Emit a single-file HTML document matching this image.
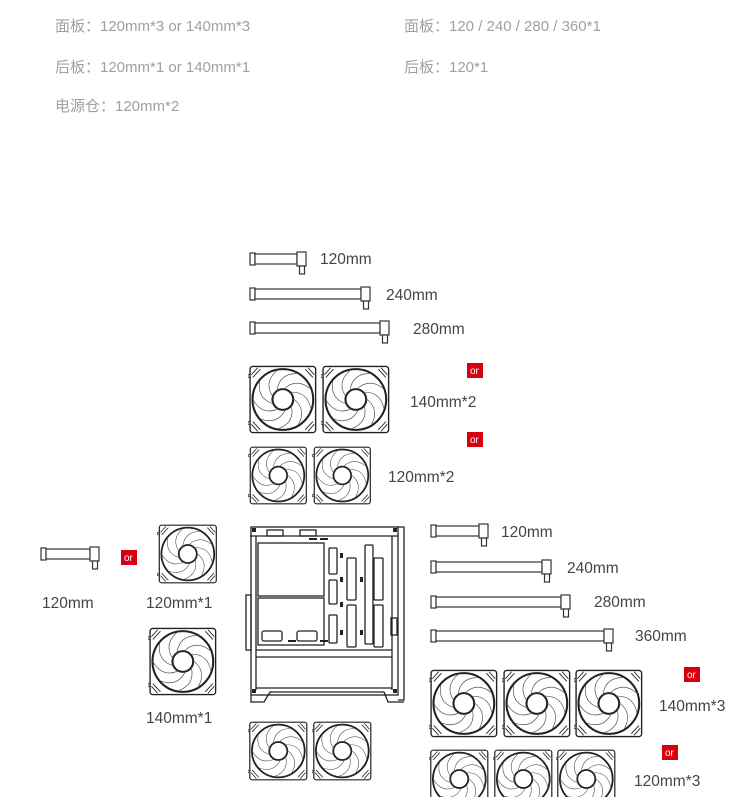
<!DOCTYPE html>
<html><head><meta charset="utf-8"><style>
html,body{margin:0;padding:0;background:#fff;}
svg{display:block;}
.t{font-family:"Liberation Sans","Noto Sans CJK SC",sans-serif;font-size:15px;fill:#a0a0a0;}
.l{font-family:"Liberation Sans","Noto Sans CJK SC",sans-serif;font-size:15.5px;fill:#444;}
.or{font-family:"Liberation Sans",sans-serif;font-size:10px;fill:#fff;}
</style></head><body>
<svg width="750" height="797" viewBox="0 0 750 797" xmlns="http://www.w3.org/2000/svg">
<defs>
<symbol id="fan" viewBox="0 0 100 100">
 <g fill="none" stroke="#222">
  <rect x="3" y="2" width="95" height="96" rx="4" stroke-width="2"/>
  <circle cx="50.5" cy="50" r="44" stroke-width="3"/>
  <circle cx="50.5" cy="50" r="15" stroke-width="3"/>
  <g stroke-width="1" stroke="#555">
   <path id="bl" d="M52,35 Q70,18 90,34"/>
   <use href="#bl" transform="rotate(40 50.5 50)"/>
   <use href="#bl" transform="rotate(80 50.5 50)"/>
   <use href="#bl" transform="rotate(120 50.5 50)"/>
   <use href="#bl" transform="rotate(160 50.5 50)"/>
   <use href="#bl" transform="rotate(200 50.5 50)"/>
   <use href="#bl" transform="rotate(240 50.5 50)"/>
   <use href="#bl" transform="rotate(280 50.5 50)"/>
   <use href="#bl" transform="rotate(320 50.5 50)"/>
  </g>
  <g stroke-width="1.3">
   <path d="M5,14 L14,4 M7,18 L18,6"/><path d="M96,14 L87,4 M94,18 L83,6"/>
   <path d="M5,86 L14,96 M7,82 L18,94"/><path d="M96,86 L87,96 M94,82 L83,94"/>
  </g>
  <rect x="0" y="14" width="3" height="4" stroke-width="1"/><rect x="0" y="82" width="3" height="4" stroke-width="1"/>
 </g>
</symbol>
</defs>

<text class="t" x="55" y="31">面板：120mm*3 or 140mm*3</text>
<text class="t" x="55" y="72">后板：120mm*1 or 140mm*1</text>
<text class="t" x="55" y="111">电源仓：120mm*2</text>
<text class="t" x="404" y="31">面板：120 / 240 / 280 / 360*1</text>
<text class="t" x="404" y="72">后板：120*1</text>

<g fill="#fff" stroke="#333" stroke-width="1.2">
 <rect x="250" y="253" width="5" height="12"/><rect x="255" y="254" width="42" height="10"/><rect x="297" y="252" width="9" height="14"/><rect x="299.5" y="266" width="5" height="8"/>
 <rect x="250" y="288" width="5" height="12"/><rect x="255" y="289" width="106" height="10"/><rect x="361" y="287" width="9" height="14"/><rect x="363.5" y="301" width="5" height="8"/>
 <rect x="250" y="322" width="5" height="12"/><rect x="255" y="323" width="125" height="10"/><rect x="380" y="321" width="9" height="14"/><rect x="382.5" y="335" width="5" height="8"/>
 <rect x="41" y="548" width="5" height="12"/><rect x="46" y="549" width="44" height="10"/><rect x="90" y="547" width="9" height="14"/><rect x="92.5" y="561" width="5" height="8"/>
 <rect x="431" y="525" width="5" height="12"/><rect x="436" y="526" width="43" height="10"/><rect x="479" y="524" width="9" height="14"/><rect x="481.5" y="538" width="5" height="8"/>
 <rect x="431" y="561" width="5" height="12"/><rect x="436" y="562" width="106" height="10"/><rect x="542" y="560" width="9" height="14"/><rect x="544.5" y="574" width="5" height="8"/>
 <rect x="431" y="596" width="5" height="12"/><rect x="436" y="597" width="125" height="10"/><rect x="561" y="595" width="9" height="14"/><rect x="563.5" y="609" width="5" height="8"/>
 <rect x="431" y="630" width="5" height="12"/><rect x="436" y="631" width="168" height="10"/><rect x="604" y="629" width="9" height="14"/><rect x="606.5" y="643" width="5" height="8"/>
</g>

<use href="#fan" x="248" y="365" width="69" height="69"/>
<use href="#fan" x="321" y="365" width="69" height="69"/>
<use href="#fan" x="248" y="446" width="60" height="59"/>
<use href="#fan" x="312" y="446" width="60" height="59"/>
<use href="#fan" x="157" y="524" width="61" height="60"/>
<use href="#fan" x="148" y="627" width="69" height="69"/>
<use href="#fan" x="248" y="721" width="60" height="60"/>
<use href="#fan" x="312" y="721" width="60" height="60"/>
<use href="#fan" x="429" y="669" width="69" height="69"/>
<use href="#fan" x="502" y="669" width="69" height="69"/>
<use href="#fan" x="574" y="669" width="69" height="69"/>
<use href="#fan" x="429" y="749" width="60" height="60"/>
<use href="#fan" x="493" y="749" width="60" height="60"/>
<use href="#fan" x="556" y="749" width="60" height="60"/>

<g fill="none" stroke="#222" stroke-width="1.3">
 <rect x="251" y="527" width="147" height="168"/>
 <path d="M398,527 L404,527 L404,700 L398,700"/>
 <path d="M251,695 L251,702 L264,702 L270,692 L384,692 L388,702 L404,702"/>
 <rect x="246" y="595" width="5" height="55"/>
 <line x1="250" y1="536" x2="398" y2="536"/>
 <line x1="256" y1="536" x2="256" y2="690"/>
 <line x1="256" y1="650" x2="392" y2="650"/>
 <line x1="256" y1="657" x2="392" y2="657"/>
 <line x1="392" y1="536" x2="392" y2="690"/>
 <line x1="256" y1="688" x2="392" y2="688"/>
 <rect x="258" y="543" width="66" height="53"/>
 <rect x="258" y="598" width="66" height="47"/>
 <rect x="262" y="631" width="20" height="10" rx="2"/>
 <rect x="297" y="631" width="20" height="10" rx="2"/>
 <rect x="329" y="548" width="8" height="26" rx="1"/>
 <rect x="329" y="580" width="8" height="24" rx="1"/>
 <rect x="329" y="615" width="8" height="28" rx="1"/>
 <rect x="347" y="558" width="9" height="42" rx="1"/>
 <rect x="347" y="605" width="9" height="42" rx="1"/>
 <rect x="365" y="545" width="8" height="99" rx="1"/>
 <rect x="374" y="558" width="9" height="42" rx="1"/>
 <rect x="374" y="605" width="9" height="42" rx="1"/>
 <rect x="391" y="618" width="6" height="17"/>
 <rect x="267" y="530" width="16" height="6"/>
 <rect x="300" y="530" width="16" height="6"/>
</g>
<g fill="#222">
 <rect x="252" y="528" width="4" height="4"/><rect x="393" y="528" width="4" height="4"/>
 <rect x="252" y="689" width="4" height="4"/><rect x="393" y="689" width="4" height="4"/>
 <rect x="340" y="553" width="3" height="5"/><rect x="340" y="577" width="3" height="5"/><rect x="340" y="602" width="3" height="5"/><rect x="340" y="630" width="3" height="5"/>
 <rect x="360" y="577" width="3" height="5"/><rect x="360" y="630" width="3" height="5"/>
 <rect x="288" y="640" width="8" height="2"/><rect x="320" y="640" width="8" height="2"/>
 <rect x="309" y="538" width="8" height="2"/><rect x="320" y="538" width="8" height="2"/>
</g>

<text class="l" x="320" y="264">120mm</text>
<text class="l" x="386" y="300">240mm</text>
<text class="l" x="413" y="334">280mm</text>
<text class="l" x="410" y="407">140mm*2</text>
<text class="l" x="388" y="482">120mm*2</text>
<text class="l" x="42" y="608">120mm</text>
<text class="l" x="146" y="608">120mm*1</text>
<text class="l" x="146" y="723">140mm*1</text>
<text class="l" x="501" y="537">120mm</text>
<text class="l" x="567" y="573">240mm</text>
<text class="l" x="594" y="607">280mm</text>
<text class="l" x="635" y="641">360mm</text>
<text class="l" x="659" y="711">140mm*3</text>
<text class="l" x="634" y="786">120mm*3</text>

<g fill="#d7000f">
 <rect x="467" y="363" width="16" height="15"/><rect x="467" y="432" width="16" height="15"/>
 <rect x="121" y="550" width="16" height="15"/><rect x="684" y="667" width="16" height="15"/>
 <rect x="662" y="745" width="16" height="15"/>
</g>
<text class="or" x="470" y="374">or</text><text class="or" x="470" y="443">or</text>
<text class="or" x="124" y="561">or</text><text class="or" x="687" y="678">or</text>
<text class="or" x="665" y="756">or</text>
</svg>
</body></html>
